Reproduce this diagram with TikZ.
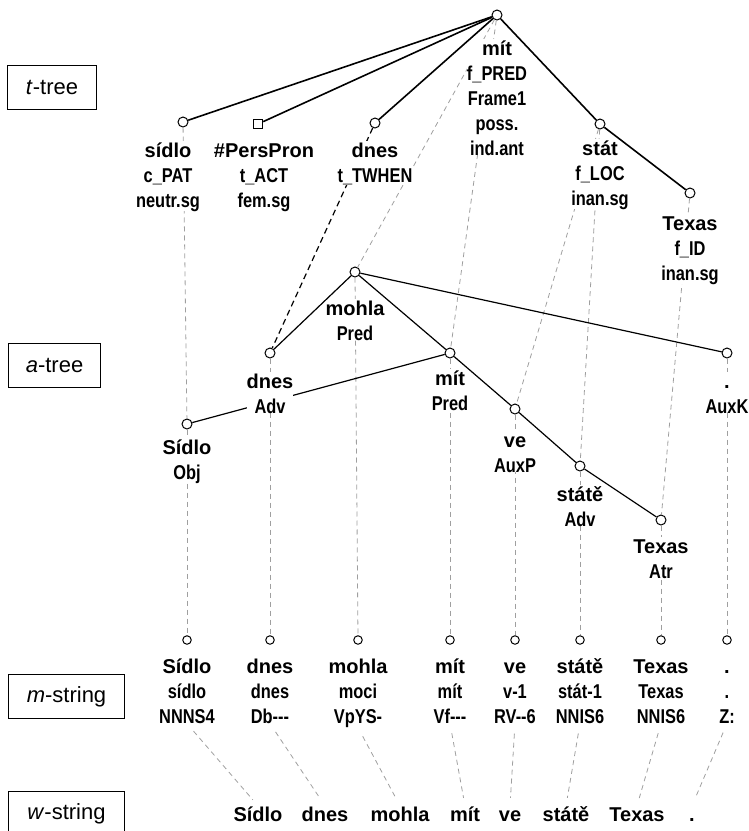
\documentclass[tikz,border=0pt]{standalone}
\usepackage{fontspec}
\setmainfont{Liberation Sans}
\newfontfamily\narrowfam{Liberation Sans}[FakeStretch=0.82]
\usepackage{tikz}
\newcommand{\hw}[1]{{\rmfamily\rule{0pt}{16pt}#1}}

\begin{document}
\begin{tikzpicture}[
    x=1pt, y=-1pt,
    tag/.style={rectangle, draw, line width=1pt, anchor=north west, inner sep=0pt, minimum height=44pt, font=\fontsize{22}{26}\selectfont},
    vert/.style={circle, draw, fill=white, inner sep=0pt, minimum size=10pt, line width=1pt},
    gen/.style={rectangle, draw, fill=white, inner sep=0pt, minimum size=9.5pt, line width=1pt},
    lbl/.style={anchor=north, inner sep=0pt, fill=white, align=center, font=\narrowfam\bfseries\fontsize{20}{25}\selectfont},
    word/.style={anchor=base, inner sep=0pt, text height=15pt, text depth=4pt, font=\bfseries\fontsize{20}{25}\selectfont},
    tedge/.style={line width=1.6pt},
    aedge/.style={line width=1.2pt},
    link/.style={gray!75, line width=0.8pt, dash pattern=on 5pt off 4pt},
    corr/.style={line width=1.2pt, dash pattern=on 6pt off 4pt},
]
\useasboundingbox (0,0) rectangle (749,831);

% level tags
\node[tag, minimum width=89pt] (ttag) at (7,65) {\textit{t}-tree};
\node[tag, minimum width=92pt] (atag) at (8,343) {\textit{a}-tree};
\node[tag, minimum width=116pt] (mtag) at (8,674) {\textit{m}-string};
\node[tag, minimum width=116pt] (wtag) at (8,791) {\textit{w}-string};

% t-tree
\node[vert] (troot) at (497,15) {};
\node[vert] (tsidlo) at (183,122) {};
\node[gen] (tpers) at (258,124) {};
\node[vert] (tdnes) at (375,123) {};
\node[vert] (tstat) at (600,124) {};
\node[vert] (ttexas) at (690,193) {};

% a-tree
\node[vert] (amohla) at (355,272) {};
\node[vert] (adnes) at (270,353) {};
\node[vert] (asidlo) at (187,424) {};
\node[vert] (amit) at (450,353) {};
\node[vert] (ave) at (515,409) {};
\node[vert] (astate) at (580,466) {};
\node[vert] (atexas) at (661,520) {};
\node[vert] (adot) at (727,353) {};

% m-string
\node[vert, minimum size=8.5pt] (msidlo) at (187,640) {};
\node[vert, minimum size=8.5pt] (mdnes) at (270,640) {};
\node[vert, minimum size=8.5pt] (mmohla) at (358,640) {};
\node[vert, minimum size=8.5pt] (mmit) at (450,640) {};
\node[vert, minimum size=8.5pt] (mve) at (515,640) {};
\node[vert, minimum size=8.5pt] (mstate) at (580,640) {};
\node[vert, minimum size=8.5pt] (mtexas) at (661,640) {};
\node[vert, minimum size=8.5pt] (mdot) at (727,640) {};

% w-string
\node[word] (wsidlo) at (258,821) {Sídlo};
\node[word] (wdnes) at (325,821) {dnes};
\node[word] (wmohla) at (400,821) {mohla};
\node[word] (wmit) at (465,821) {mít};
\node[word] (wve) at (510,821) {ve};
\node[word] (wstate) at (566,821) {státě};
\node[word] (wtexas) at (637,821) {Texas};
\node[word] (wdot) at (692,821) {.};

% links between levels
\draw[link] (tsidlo) -- (asidlo);
\draw[corr] (tdnes) -- (adnes);
\draw[link] (troot) -- (amohla);
\draw[link] (troot) -- (amit);
\draw[link] (tstat) -- (ave);
\draw[link] (tstat) -- (astate);
\draw[link] (ttexas) -- (atexas);
\draw[link] (asidlo) -- (msidlo);
\draw[link] (adnes) -- (mdnes);
\draw[link] (amohla) -- (mmohla);
\draw[link] (amit) -- (mmit);
\draw[link] (ave) -- (mve);
\draw[link] (astate) -- (mstate);
\draw[link] (atexas) -- (mtexas);
\draw[link] (adot) -- (mdot);
\draw[aedge] (amit) -- (asidlo);

% labels
\node[lbl] (tsidlol) at (168,141) {\hw{sídlo}\\c\_PAT\\neutr.sg};
\node[lbl] (tpersl) at (264,141) {\hw{\#PersPron}\\t\_ACT\\fem.sg};
\node[lbl] (tdnesl) at (375,141) {\hw{dnes}\\t\_TWHEN};
\node[lbl] (trootl) at (497,39) {\hw{mít}\\f\_PRED\\Frame1\\poss.\\ind.ant};
\node[lbl] (tstatl) at (600,139) {\hw{stát}\\f\_LOC\\inan.sg};
\node[lbl] (ttexasl) at (690,214) {\hw{Texas}\\f\_ID\\inan.sg};

\node[lbl] (amohlal) at (355,299) {\hw{mohla}\\Pred};
\node[lbl] (adnesl) at (270,372) {\hw{dnes}\\Adv};
\node[lbl] (asidlol) at (187,438) {\hw{Sídlo}\\Obj};
\node[lbl] (amitl) at (450,369) {\hw{mít}\\Pred};
\node[lbl] (avel) at (515,431) {\hw{ve}\\AuxP};
\node[lbl] (astatel) at (580,485) {\hw{státě}\\Adv};
\node[lbl] (atexasl) at (661,537) {\hw{Texas}\\Atr};
\node[lbl] (adotl) at (727,372) {\hw{.}\\AuxK};

\node[lbl] (msidlol) at (187,657) {\hw{Sídlo}\\sídlo\\NNNS4};
\node[lbl] (mdnesl) at (270,657) {\hw{dnes}\\dnes\\Db-{}-{}-};
\node[lbl] (mmohlal) at (358,657) {\hw{mohla}\\moci\\VpYS-};
\node[lbl] (mmitl) at (450,657) {\hw{mít}\\mít\\Vf-{}-{}-};
\node[lbl] (mvel) at (515,657) {\hw{ve}\\v-1\\RV-{}-6};
\node[lbl] (mstatel) at (580,657) {\hw{státě}\\stát-1\\NNIS6};
\node[lbl] (mtexasl) at (661,657) {\hw{Texas}\\Texas\\NNIS6};
\node[lbl] (mdotl) at (727,657) {\hw{.}\\.\\Z:};

% m-string to w-string
\draw[link, shorten <=10pt, shorten >=8pt] (msidlol.south) -- (wsidlo.north);
\draw[link, shorten <=10pt, shorten >=8pt] (mdnesl.south) -- (wdnes.north);
\draw[link, shorten <=10pt, shorten >=8pt] (mmohlal.south) -- (wmohla.north);
\draw[link, shorten <=10pt, shorten >=8pt] (mmitl.south) -- (wmit.north);
\draw[link, shorten <=10pt, shorten >=8pt] (mvel.south) -- (wve.north);
\draw[link, shorten <=10pt, shorten >=8pt] (mstatel.south) -- (wstate.north);
\draw[link, shorten <=10pt, shorten >=8pt] (mtexasl.south) -- (wtexas.north);
\draw[link, shorten <=10pt, shorten >=8pt] (mdotl.south) -- (wdot.north);

% t-tree edges
\draw[tedge] (troot) -- (tsidlo);
\draw[tedge] (troot) -- (tpers);
\draw[tedge] (troot) -- (tdnes);
\draw[tedge] (troot) -- (tstat);
\draw[tedge] (tstat) -- (ttexas);

% a-tree edges
\draw[aedge] (amohla) -- (adnes);
\draw[aedge] (amohla) -- (amit);
\draw[aedge] (amohla) -- (adot);
\draw[aedge] (amit) -- (ave);
\draw[aedge] (ave) -- (astate);
\draw[aedge] (astate) -- (atexas);
\end{tikzpicture}
\end{document}
